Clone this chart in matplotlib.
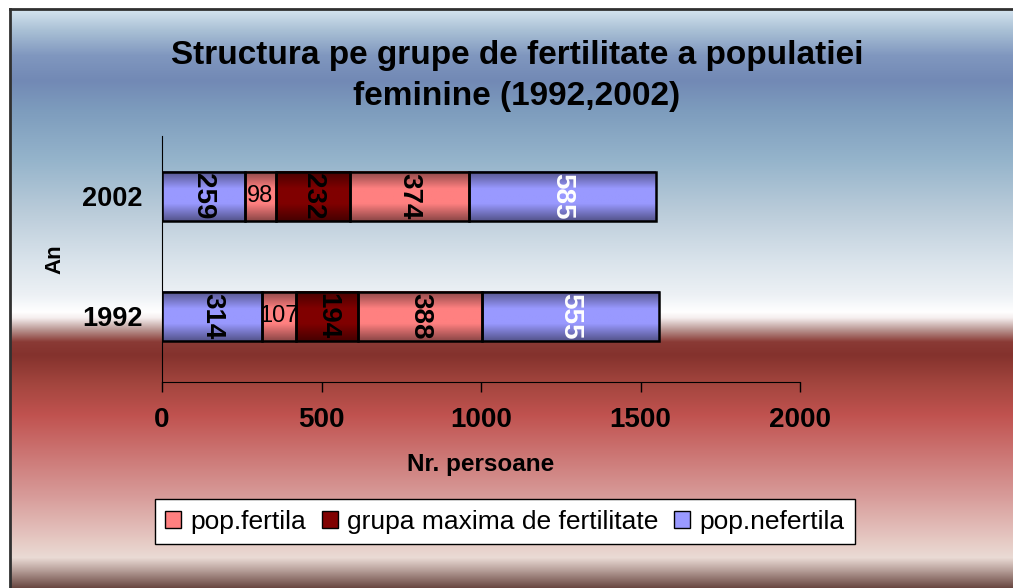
import numpy as np
import matplotlib.pyplot as plt
from matplotlib.colors import to_rgb
from matplotlib.patches import Patch
from matplotlib.lines import Line2D

plt.rcParams['font.family'] = ['Liberation Sans', 'DejaVu Sans']

# Date: numar de persoane pe grupe, in ordinea de stivuire
ani = ['1992', '2002']
nefertila_1 = [314, 259]
fertila_1 = [107, 98]
grupa_maxima = [194, 232]
fertila_2 = [388, 374]
nefertila_2 = [555, 585]
xticks = [0, 500, 1000, 1500, 2000]

serii = [nefertila_1, fertila_1, grupa_maxima, fertila_2, nefertila_2]
culori = ['#9999ff', '#ff8080', '#800000', '#ff8080', '#9999ff']
legenda = ['pop.fertila', 'grupa maxima de fertilitate', 'pop.nefertila']
culori_legenda = ['#ff8080', '#800000', '#9999ff']

W, H = 1013, 588
fig = plt.figure(figsize=(W / 100, H / 100), dpi=100)
fig.patch.set_facecolor('white')

# fundal cu degrade vertical (albastru sus, rosu jos)
stops = [
    (9, '#d5e4ef'), (30, '#a9c0d5'), (55, '#8097bf'), (80, '#7289b5'),
    (110, '#7d9cbd'), (160, '#95b4cb'), (210, '#b9cbd9'), (260, '#d9e3eb'),
    (295, '#edf1f5'), (312, '#ffffff'), (318, '#f5eeee'), (330, '#b89490'),
    (342, '#8a3a35'), (355, '#84322d'), (385, '#a4463f'), (415, '#c0524f'),
    (455, '#cc7674'), (495, '#d79a98'), (535, '#e4c3be'), (558, '#eadbd5'),
    (570, '#baa39d'), (588, '#6a4842'),
]
ys = np.arange(9, 589)
sy = [s[0] for s in stops]
rgb = np.array([to_rgb(s[1]) for s in stops])
grad = np.stack([np.interp(ys, sy, rgb[:, k]) for k in range(3)], axis=1)
bg = fig.add_axes([10 / W, 0, 1 - 10 / W, 1 - 9 / H], zorder=-10)
bg.imshow(grad[:, None, :], aspect='auto', interpolation='bilinear')
bg.set_axis_off()

# chenarul diagramei
fig.add_artist(Line2D([10 / W, 10 / W], [0, 1 - 8.5 / H], color='#303030', lw=2))
fig.add_artist(Line2D([10 / W, 1], [1 - 8.5 / H, 1 - 8.5 / H], color='#303030', lw=2))

ax = fig.add_axes([162 / W, 1 - 382 / H, (800 - 162) / W, (382 - 136) / H])
ax.patch.set_alpha(0)

y = np.arange(len(ani))
left = np.zeros(len(ani))


def bar_gradient(c):
    base = np.array(to_rgb(c))
    t = np.linspace(0, 1, 64)
    f = np.interp(t, [0, 0.35, 0.65, 1], [0.55, 1.0, 1.0, 0.55])
    return (base[None, :] * f[:, None])[:, None, :]


bars_all = []
for vals, c in zip(serii, culori):
    bars = ax.barh(y, vals, left=left, height=0.41, color=c,
                   edgecolor='black', linewidth=1.8, zorder=3)
    for p in bars:
        x0, y0, w, h = p.get_x(), p.get_y(), p.get_width(), p.get_height()
        ax.imshow(bar_gradient(c), extent=[x0, x0 + w, y0, y0 + h],
                  aspect='auto', interpolation='bilinear', zorder=2)
        p.set_facecolor('none')
    bars_all.append(bars)
    left = left + np.array(vals)

# etichete cu valori
for k, (vals, bars) in enumerate(zip(serii, bars_all)):
    for v, p in zip(vals, bars):
        cx = p.get_x() + p.get_width() / 2
        cy = p.get_y() + p.get_height() / 2
        if k == 1:
            ax.text(cx, cy, str(v), ha='center', va='center',
                    fontsize=17, color='black', zorder=4)
        else:
            ax.text(cx, cy, str(v), ha='center', va='center', rotation=-90,
                    fontsize=20, fontweight='bold',
                    color='white' if k == 4 else 'black', zorder=4)

ax.set_xlim(0, 2000)
ax.set_ylim(-0.546, 1.504)
ax.set_xticks(xticks)
ax.set_yticks(y)
ax.set_yticklabels(ani)
ax.tick_params(axis='y', length=0, pad=14, labelsize=19.5)
ax.tick_params(axis='x', length=7, width=1, pad=11, labelsize=20)
for lab in ax.get_xticklabels() + ax.get_yticklabels():
    lab.set_fontweight('bold')
ax.spines['top'].set_visible(False)
ax.spines['right'].set_visible(False)

ax.set_ylabel('An', fontsize=16, fontweight='bold')
ax.yaxis.set_label_coords(-0.152, 0.5)
ax.set_xlabel('Nr. persoane', fontsize=17.5, fontweight='bold')
ax.xaxis.set_label_coords(0.5, -(453 - 382) / (382 - 136))

fig.text(517 / W, 1 - 76 / H,
         'Structura pe grupe de fertilitate a populatiei\nfeminine (1992,2002)',
         ha='center', va='center', fontsize=24, fontweight='bold',
         linespacing=1.45)

handles = [Patch(facecolor=c, edgecolor='black', linewidth=1) for c in culori_legenda]
fig.legend(handles, legenda, loc='center', ncol=3,
           bbox_to_anchor=(505 / W, 1 - 521.5 / H), fontsize=19,
           frameon=True, fancybox=False, edgecolor='black', framealpha=1,
           handlelength=0.6, handleheight=0.6, handletextpad=0.35,
           columnspacing=0.6, borderpad=0.4)

fig.savefig('out.png', dpi=100)
